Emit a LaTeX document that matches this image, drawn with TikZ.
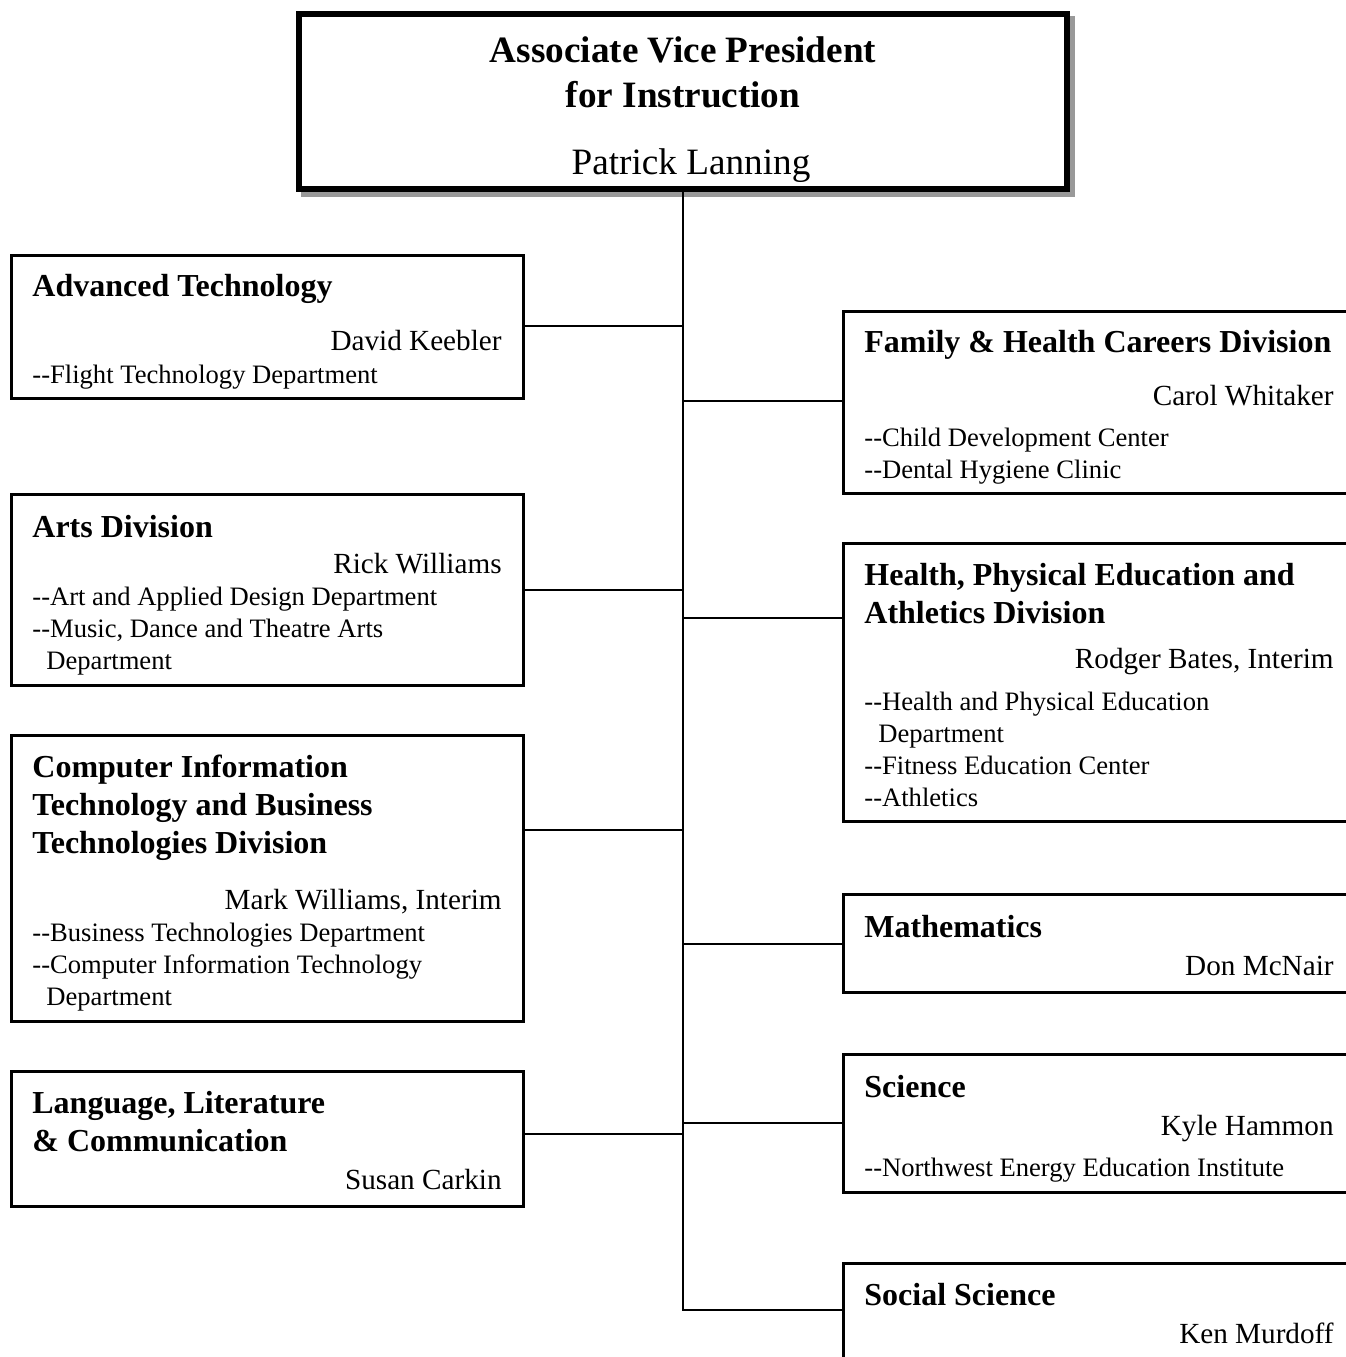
\documentclass[tikz,border=0pt]{standalone}
\usepackage{fontspec}
\setmainfont{Liberation Serif}
\usepackage{tikz}
\usetikzlibrary{fit}
\tikzstyle{unit}=[draw, line width=1.5pt, fill=white, inner sep=0pt]
\tikzstyle{link}=[line width=1.35pt]
\tikzstyle{title}=[inner sep=0pt, anchor=base, font=\fontsize{18.6}{22}\selectfont]
\tikzstyle{head}=[inner sep=0pt, anchor=base west, font=\fontsize{16}{19}\selectfont\bfseries]
\tikzstyle{chief}=[inner sep=0pt, anchor=base east, font=\fontsize{14.6}{17}\selectfont]
\tikzstyle{dept}=[inner sep=0pt, anchor=base west, font=\fontsize{13.3}{16}\selectfont]

\begin{document}
\begin{tikzpicture}[x=0.5pt,y=-0.5pt]
 \useasboundingbox (0,0) rectangle (1346,1357);
 \clip (0,0) rectangle (1346,1357);
%
 \fill[black!40] (301,16) rectangle (1075,197);
 \node[unit, line width=3pt, fit={(299,14) (1067,189)}] (avp) {};
 \node[title] (avp1) at (683,62) {\bfseries Associate Vice President};
 \node[title] (avp2) at (683,107) {\bfseries for Instruction};
 \node[title] (avp3) at (691,174) {Patrick Lanning};
%
 \node[unit, fit={(11,255) (523,398)}] (adv) {};
 \node[head] (adv1) at (32,296) {Advanced Technology};
 \node[chief] (adv2) at (502,350) {David Keebler};
 \node[dept] (adv3) at (32,383) {-{}-Flight Technology Department};
%
 \node[unit, fit={(11,494) (523,685)}] (arts) {};
 \node[head] (arts1) at (32,537) {Arts Division};
 \node[chief] (arts2) at (502,573) {Rick Williams};
 \node[dept] (arts3) at (32,605) {-{}-Art and Applied Design Department};
 \node[dept] (arts4) at (32,637) {-{}-Music, Dance and Theatre Arts};
 \node[dept] (arts5) at (46,669) {Department};
%
 \node[unit, fit={(11,735) (523,1021)}] (cit) {};
 \node[head] (cit1) at (32,777) {Computer Information};
 \node[head] (cit2) at (32,815) {Technology and Business};
 \node[head] (cit3) at (32,853) {Technologies Division};
 \node[chief] (cit4) at (502,909) {Mark Williams, Interim};
 \node[dept] (cit5) at (32,941) {-{}-Business Technologies Department};
 \node[dept] (cit6) at (32,973) {-{}-Computer Information Technology};
 \node[dept] (cit7) at (46,1005) {Department};
%
 \node[unit, fit={(11,1071) (523,1206)}] (lang) {};
 \node[head] (lang1) at (32,1113) {Language, Literature};
 \node[head] (lang2) at (32,1151) {\& Communication};
 \node[chief] (lang3) at (502,1189) {Susan Carkin};
%
 \node[unit, fit={(843,311) (1358,493)}] (fam) {};
 \node[head] (fam1) at (864,352) {Family \& Health Careers Division};
 \node[chief] (fam2) at (1334,405) {Carol Whitaker};
 \node[dept] (fam3) at (864,446) {-{}-Child Development Center};
 \node[dept] (fam4) at (864,478) {-{}-Dental Hygiene Clinic};
%
 \node[unit, fit={(843,543) (1358,821)}] (hpe) {};
 \node[head] (hpe1) at (864,585) {Health, Physical Education and};
 \node[head] (hpe2) at (864,623) {Athletics Division};
 \node[chief] (hpe3) at (1334,668) {Rodger Bates, Interim};
 \node[dept] (hpe4) at (864,710) {-{}-Health and Physical Education};
 \node[dept] (hpe5) at (878,742) {Department};
 \node[dept] (hpe6) at (864,774) {-{}-Fitness Education Center};
 \node[dept] (hpe7) at (864,806) {-{}-Athletics};
%
 \node[unit, fit={(843,894) (1358,992)}] (math) {};
 \node[head] (math1) at (864,937) {Mathematics};
 \node[chief] (math2) at (1334,975) {Don McNair};
%
 \node[unit, fit={(843,1054) (1358,1192)}] (sci) {};
 \node[head] (sci1) at (864,1097) {Science};
 \node[chief] (sci2) at (1334,1135) {Kyle Hammon};
 \node[dept] (sci3) at (864,1176) {-{}-Northwest Energy Education Institute};
%
 \node[unit, fit={(843,1263) (1358,1380)}] (soc) {};
 \node[head] (soc1) at (864,1305) {Social Science};
 \node[chief] (soc2) at (1334,1343) {Ken Murdoff};
%
 \coordinate (jadv) at (683,326);
 \coordinate (jarts) at (683,590);
 \coordinate (jcit) at (683,830);
 \coordinate (jlang) at (683,1134);
 \coordinate (jfam) at (683,401);
 \coordinate (jhpe) at (683,618);
 \coordinate (jmath) at (683,944);
 \coordinate (jsci) at (683,1123);
 \coordinate (jsoc) at (683,1310);
%
 \draw[link] (avp.south) -- (jsoc) -- (soc.west |- jsoc);
 \foreach \b in {adv,arts,cit,lang}
  \draw[link] (\b.east |- j\b) -- (j\b);
 \foreach \b in {fam,hpe,math,sci}
  \draw[link] (j\b) -- (\b.west |- j\b);
\end{tikzpicture}
\end{document}
